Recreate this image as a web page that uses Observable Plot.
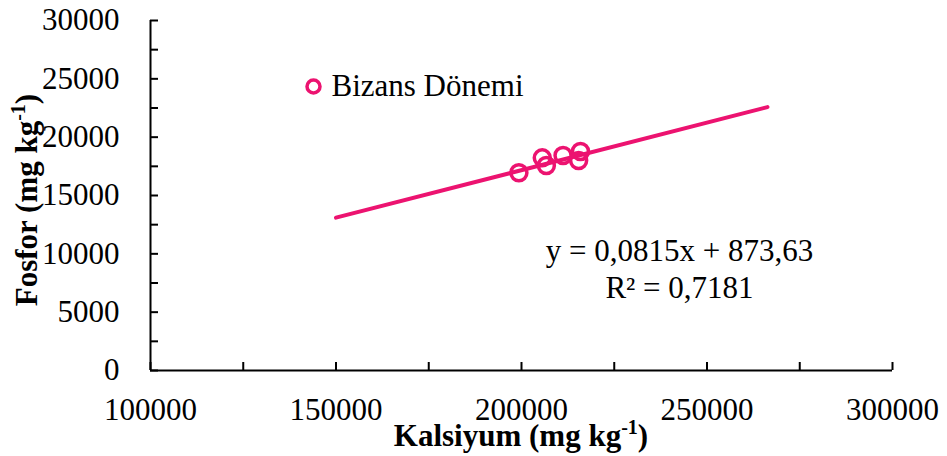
<!DOCTYPE html>
<html><head><meta charset="utf-8">
<script src="https://cdn.jsdelivr.net/npm/d3@7"></script>
<script src="https://cdn.jsdelivr.net/npm/@observablehq/plot@0.6"></script>
<style>
html,body{margin:0;padding:0;background:#fff;}
svg, svg text { font-family: "Liberation Serif", "Times New Roman", serif !important; }
</style></head><body><div id="chart"></div>
<script>
// ---- data ----
const seriesName = "Bizans Dönemi";
const kalsiyum = [199300, 205600, 206700, 211200, 215900, 215400];
const fosfor   = [16950, 18230, 17570, 18430, 18770, 18000];
const slope = 0.0815;
const intercept = 873.63;
const trendX = [150000, 266300];
const equationText = "y = 0,0815x + 873,63";
const r2Text = "R² = 0,7181";
const xMajorTicks = [100000, 150000, 200000, 250000, 300000];
const xMinorTicks = [100000, 125000, 150000, 175000, 200000, 225000, 250000, 275000, 300000];
const yMajorTicks = [0, 5000, 10000, 15000, 20000, 25000, 30000];
const yMinorTicks = [0, 2500, 5000, 7500, 10000, 12500, 15000, 17500, 20000, 22500, 25000, 27500, 30000];
const xTitleMain = "Kalsiyum (mg kg", xTitleSup = "-1", xTitleEnd = ")";
const yTitleMain = "Fosfor (mg kg", yTitleSup = "-1", yTitleEnd = ")";

const pink = "#EC1370";
const serif = "Liberation Serif";
const points = kalsiyum.map((x, i) => ({x, y: fosfor[i]}));
const trend = trendX.map(x => ({x, y: slope * x + intercept}));
const fmt = d3.format("d");

const plot = Plot.plot({
  width: 947, height: 456,
  marginLeft: 150, marginRight: 55, marginTop: 20, marginBottom: 86,
  x: {domain: [100000, 300000]},
  y: {domain: [0, 30000]},
  style: {fontFamily: serif, fontSize: "30px", color: "#000", background: "#fff"},
  marks: [
    Plot.ruleY([0], {stroke: "#000", strokeWidth: 2}),
    Plot.ruleX([100000], {stroke: "#000", strokeWidth: 2}),
    Plot.axisX({ticks: xMinorTicks, tickSize: 8, dy: -8, tickFormat: () => "", label: null, strokeWidth: 2}),
    Plot.axisY({ticks: yMinorTicks, tickSize: 8, dx: 8, tickFormat: () => "", label: null, strokeWidth: 2}),
    Plot.axisX({ticks: xMajorTicks, tickSize: 0, tickPadding: 27, tickFormat: fmt, label: null, fontSize: 31, fontFamily: serif}),
    Plot.axisY({ticks: yMajorTicks, tickSize: 0, tickPadding: 31, tickFormat: fmt, label: null, fontSize: 31, fontFamily: serif}),
    Plot.line(trend, {x: "x", y: "y", stroke: pink, strokeWidth: 4}),
    Plot.dot(points, {x: "x", y: "y", r: 8, stroke: pink, strokeWidth: 3.5, fill: "none"}),
    Plot.dot([seriesName], {frameAnchor: "top-left", dx: 163, dy: 66, r: 6.5, stroke: pink, strokeWidth: 3.5, fill: "none"}),
    Plot.text([seriesName], {frameAnchor: "top-left", dx: 181, dy: 66, text: d => d, textAnchor: "start", lineAnchor: "middle", fontSize: 31, fontFamily: serif, fill: "#000"}),
    Plot.text([equationText + "\n" + r2Text], {frameAnchor: "top-left", dx: 529, dy: 215, text: d => d, textAnchor: "middle", lineAnchor: "top", lineHeight: 1.17, fontSize: 31, fontFamily: serif, fill: "#000"})
  ]
});

const svg = d3.select(plot);
const xr = plot.scale("x").range, yr = plot.scale("y").range;
const xc = (xr[0] + xr[1]) / 2, yc = (yr[0] + yr[1]) / 2;
function addTitle(g, main, sup, end) {
  const t = g.append("text")
    .attr("text-anchor", "middle")
    .attr("font-family", serif)
    .attr("font-weight", "bold")
    .attr("font-size", 31)
    .attr("fill", "#000");
  t.append("tspan").text(main);
  t.append("tspan").attr("dy", -12).attr("font-size", 20).text(sup);
  t.append("tspan").attr("dy", 12).text(end);
}
addTitle(svg.append("g").attr("transform", `translate(${xc},446)`), xTitleMain, xTitleSup, xTitleEnd);
addTitle(svg.append("g").attr("transform", `translate(37,${yc + 5}) rotate(-90)`), yTitleMain, yTitleSup, yTitleEnd);

document.getElementById("chart").appendChild(plot);
</script>
</body></html>
